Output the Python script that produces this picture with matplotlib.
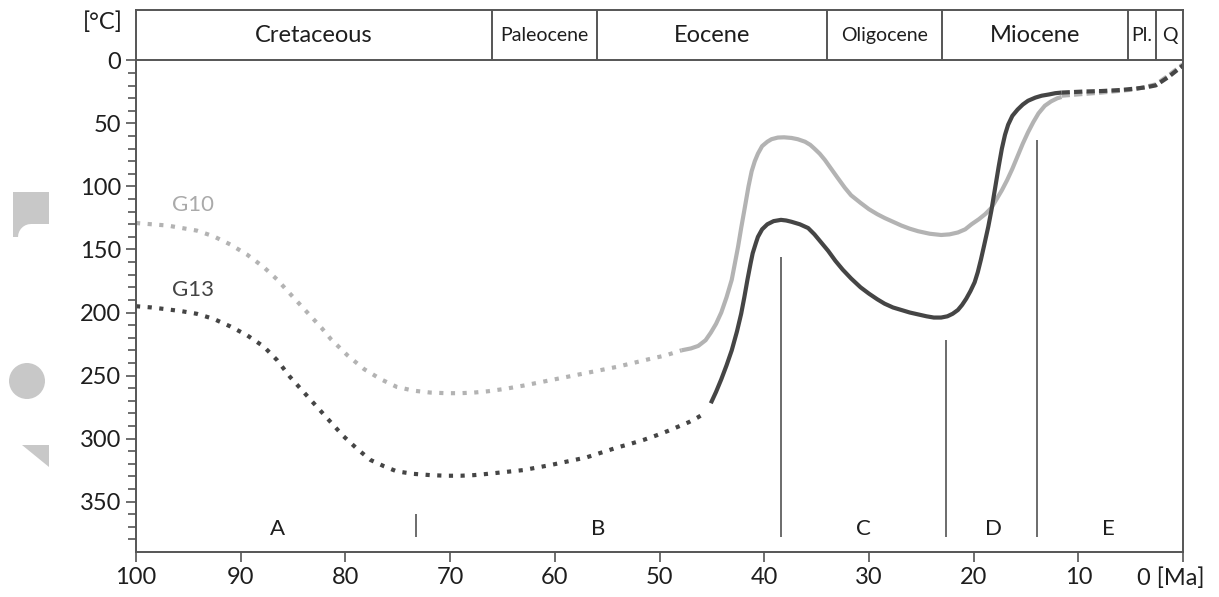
"""Thermal history of samples G10 and G13 (temperature vs. age)."""
import numpy as np
import matplotlib
matplotlib.use("Agg")
import matplotlib.pyplot as plt
from matplotlib.patches import Polygon, Ellipse
from matplotlib.ticker import FixedLocator

plt.rcParams["font.family"] = ["Lato", "DejaVu Sans"]

# --- data ------------------------------------------------------------------
# G10: dotted (poorly constrained) part, solid part, dashed recent part
g10_dot_age = [100, 98.5, 97, 95.6, 94.2, 92.6, 91.0, 89.4, 87.8, 86.5, 85.3,
               84.3, 83.3, 82.3, 81.4, 79.8, 78.2, 76.6, 75.1, 73.5, 71.9,
               70.4, 69.0, 67.7, 66.4, 64.7, 63.0, 61.5, 60.0, 58.5, 57.0,
               55.5, 54.0, 52.5, 51.0, 49.4, 47.9]
g10_dot_temp = [129, 130, 131, 133, 135, 139.5, 146, 154, 164, 174, 185,
                194, 203, 212, 221, 234, 245, 253, 259, 262, 263.5,
                264, 264, 263.5, 262.5, 260.5, 258, 255.5, 253, 250.5, 248,
                245.5, 243, 240, 237, 234, 230]
g10_age = [47.9, 47.0, 46.3, 45.6, 45.1, 44.6, 44.1, 43.6, 43.1, 42.8, 42.5,
           42.2, 41.9, 41.5, 41.2, 40.9, 40.6, 40.2, 39.7, 39.3, 38.7, 38.1,
           37.4, 36.8, 36.1, 35.6, 35.2, 34.7, 34.2, 33.6, 33.0, 32.3, 31.7,
           30.8, 30.0, 29.2, 28.5, 27.7, 26.9, 26.1, 25.3, 24.2, 23.1, 22.3,
           21.5, 20.8, 20.2, 19.5, 18.9, 18.3, 17.8, 17.3, 16.8, 16.3, 15.8,
           15.3, 14.8, 14.3, 13.8, 13.2, 12.6, 12.0, 11.6]
g10_temp = [230, 228.5, 226.5, 222, 216, 209, 200, 188, 174, 161, 148,
            133, 119, 100, 88, 80, 74, 68, 64.5, 62.5, 61.2, 61,
            61.5, 62.5, 64.5, 67, 70, 74, 79, 86, 93, 101, 107,
            113, 118, 122, 125, 128, 131, 133.5, 135.5, 137.5, 138.5, 138,
            136.5, 134, 130, 126, 122, 117, 110, 103, 95, 86, 76,
            66, 57, 49, 42, 36, 32.5, 30, 29]
g10_end_age = [11.6, 7.8, 4.6, 2.6, 1.4, 0]
g10_end_temp = [28, 25.5, 23, 19, 12, 3]

# G13
g13_dot_age = [100, 98.5, 97, 95.6, 94.2, 92.6, 91.0, 89.4, 87.8, 86.5, 85.3,
               84.0, 82.7, 81.4, 80.2, 78.9, 77.6, 76.3, 75.1, 73.5, 71.9,
               70.4, 69.0, 67.7, 66.4, 64.7, 63.0, 61.7, 60.4, 58.7, 57.0,
               55.5, 54.0, 52.7, 51.5, 50.3, 49.2, 48.2, 47.2, 46.4, 45.7]
g13_dot_temp = [195, 196, 197.5, 199, 201, 205, 211, 218, 227, 238, 251,
                263, 275, 287, 298, 308, 317, 322, 326, 328, 329,
                329.5, 329.5, 329, 328, 326.5, 325, 323, 321, 318, 315,
                311, 307, 304, 301, 297.5, 294, 290.5, 287, 283.5, 280]
g13_age = [45.1, 44.6, 44.1, 43.6, 43.1, 42.6, 42.2, 41.9, 41.6, 41.3, 41.1,
           40.8, 40.6, 40.2, 39.7, 39.1, 38.4, 37.9, 37.4, 36.6, 35.8, 35.2,
           34.6, 33.9, 33.2, 32.5, 31.7, 30.8, 30.0, 29.2, 28.5, 27.7, 26.9,
           26.1, 25.3, 24.5, 23.8, 23.1, 22.5, 22.0, 21.5, 21.1, 20.7, 20.3,
           19.9, 19.6, 19.3, 19.0, 18.6, 18.3, 17.9, 17.6, 17.3, 17.0, 16.7,
           16.3, 15.8, 15.3, 14.8, 14.1, 13.5, 12.8, 12.2, 11.6]
g13_temp = [272, 263, 253, 242, 230, 215, 201, 188, 174, 161, 153,
            145, 140, 134, 130, 127.5, 126.5, 127, 128, 130, 133, 138,
            144, 151, 159, 166, 173, 180, 185, 189.5, 193, 196, 198,
            200, 201.5, 203, 204, 204, 203, 201, 198, 194, 189, 183,
            176, 168, 158, 147, 132, 119, 99, 84, 70, 59, 51,
            44, 39, 35, 32, 29.5, 28, 27, 26, 25.5]
g13_end_age = [11.6, 9.5, 7.8, 6.0, 4.6, 3.5, 2.6, 1.4, 0]
g13_end_temp = [25.5, 24.7, 24.3, 23.5, 22.4, 21.3, 19.8, 13.2, 4]

# stratigraphic epochs (Ma)
epoch_names = ["Cretaceous", "Paleocene", "Eocene", "Oligocene", "Miocene", "Pl.", "Q"]
epoch_start = [100, 66, 56, 34, 23, 5.3, 2.6]
epoch_end = [66, 56, 34, 23, 5.3, 2.6, 0]
epoch_size = [17, 14, 17, 14, 17, 14, 14]

# thermal phases
phase_names = ["A", "B", "C", "D", "E"]
phase_pos = [86.5, 55.9, 30.5, 18.1, 7.1]
phase_bounds = [73.3, 38.4, 22.6, 13.9]
phase_bound_top = [360, 156, 222, 63]

x_ticks = list(range(0, 101, 10))
x_labels = [""] + [str(v) for v in x_ticks[1:]]

LIGHT = "#b3b3b3"
DARK = "#454545"
FRAME = "#555555"
TXT = "#1e1e1e"

W, H = 1219, 597
fig = plt.figure(figsize=(W / 100, H / 100), dpi=100)
ax = fig.add_axes([136 / W, 45 / H, (1183 - 136) / W, (552 - 10) / H])

ax.set_xlim(100, 0)
ax.set_ylim(390, -40)

# curves
line_kw = dict(lw=3, dash_capstyle="butt", solid_capstyle="butt", solid_joinstyle="round")
ax.plot(g10_dot_age, g10_dot_temp, color=LIGHT, dashes=(1, 1.8), **line_kw)
ax.plot(g10_age, g10_temp, color=LIGHT, **line_kw)
ax.plot(g10_end_age, g10_end_temp, color=LIGHT, dashes=(2, 1), **line_kw)
ax.plot(g13_dot_age, g13_dot_temp, color=DARK, dashes=(1, 1.8), **line_kw)
ax.plot(g13_age, g13_temp, color=DARK, **line_kw)
ax.plot(g13_end_age, g13_end_temp, color=DARK, dashes=(2, 1), **line_kw)

ax.text(94.6, 115, "G10", color="#aaaaaa", fontsize=16, ha="center", va="center")
ax.text(94.6, 182, "G13", color="#444444", fontsize=16, ha="center", va="center")

# epoch band on top
ax.axhline(0, color=FRAME, lw=1.4)
ax.vlines(epoch_start[1:], -40, 0, color=FRAME, lw=1.4)
for name, s, e, fs in zip(epoch_names, epoch_start, epoch_end, epoch_size):
    ax.text((s + e) / 2, -20, name, fontsize=fs, color=TXT, ha="center", va="center")

# phase boundaries and labels
ax.vlines(phase_bounds, phase_bound_top, 378, color="#444444", lw=1.1)
for name, x in zip(phase_names, phase_pos):
    ax.text(x, 372, name, fontsize=16, color=TXT, ha="center", va="center")

# axes styling
for sp in ax.spines.values():
    sp.set_color(FRAME)
    sp.set_linewidth(1.4)
ax.yaxis.set_major_locator(FixedLocator(range(0, 351, 50)))
ax.yaxis.set_minor_locator(FixedLocator(range(0, 390, 10)))
ax.xaxis.set_major_locator(FixedLocator(x_ticks))
ax.set_xticklabels(x_labels)
ax.tick_params(axis="both", which="major", length=7.5, width=1.2, color=FRAME,
               labelsize=17, labelcolor=TXT, pad=3)
ax.tick_params(axis="y", which="minor", length=5.5, width=1.2, color=FRAME)

ax.text(-0.013, -30, "[°C]", transform=ax.get_yaxis_transform(), fontsize=17,
        color=TXT, ha="right", va="center")
fig.text(1137 / W, 1 - 578 / H, "0 [Ma]", fontsize=17, color=TXT, ha="left", va="center")


# faded logo fragments on the left margin
def px(x, y):
    return (x / W, 1 - y / H)


arc = [px(31 + 13 * np.cos(t), 237 - 13 * np.sin(t)) for t in np.linspace(np.pi / 2, np.pi, 8)]
logo = [px(13, 192), px(49, 192), px(49, 224)] + arc + [px(13, 237)]
fig.patches.append(Polygon(logo, closed=True, transform=fig.transFigure,
                           facecolor="#c8c8c8", edgecolor="none"))
fig.patches.append(Ellipse(px(27, 381), 36 / W, 36 / H, transform=fig.transFigure,
                           facecolor="#c8c8c8", edgecolor="none"))
fig.patches.append(Polygon([px(22, 445), px(49, 445), px(49, 467)], closed=True,
                           transform=fig.transFigure, facecolor="#c8c8c8",
                           edgecolor="none"))

fig.savefig("out.png", dpi=100)
